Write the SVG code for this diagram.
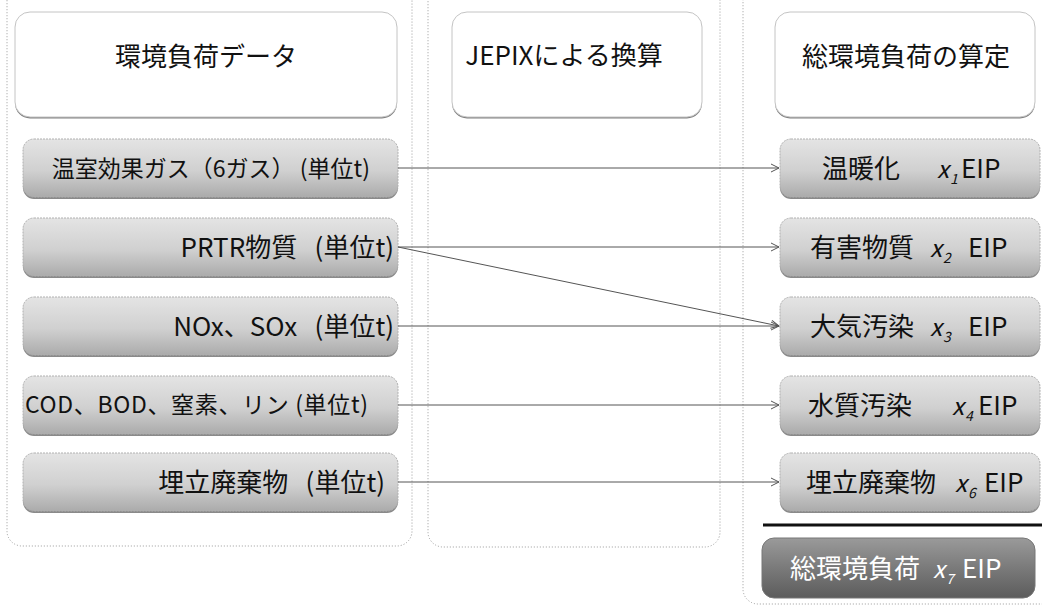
<svg xmlns="http://www.w3.org/2000/svg" width="1042" height="605" viewBox="0 0 1042 605">
<defs>
<linearGradient id="gNode" x1="0" y1="0" x2="0" y2="1">
<stop offset="0" stop-color="#e4e4e4"/><stop offset="0.55" stop-color="#d0d0d0"/><stop offset="1" stop-color="#ababab"/>
</linearGradient>
<linearGradient id="gTotal" x1="0" y1="0" x2="0" y2="1">
<stop offset="0" stop-color="#9a9a9a"/><stop offset="0.5" stop-color="#7a7a7a"/><stop offset="1" stop-color="#5c5c5c"/>
</linearGradient>
<marker id="arr" markerWidth="10" markerHeight="10" refX="9" refY="5" orient="auto" markerUnits="userSpaceOnUse">
<path d="M1,1 L9,5 L1,9" fill="none" stroke="#555" stroke-width="1"/>
</marker>
</defs>
<style>
.cont{fill:none;stroke:#9a9a9a;stroke-width:1;stroke-dasharray:1 2}
.hdr{fill:#fff;stroke:#c4c4c4;stroke-width:1}
.hsh{fill:#808080}
.node{fill:url(#gNode);stroke:#b0b0b0;stroke-width:1;stroke-dasharray:2 1}
.nsh{fill:#8a8a8a}
.t{font-family:"Noto Sans CJK JP","Noto Sans",sans-serif;fill:#111}
.h{font-size:26px}
.n{font-size:26px}
.s{font-size:23px}
.c{font-size:23px}
.x{font-size:24px;font-style:italic}
.sub{font-size:14px;font-style:italic}
.w{fill:#fff}
.conn line{stroke:#555;stroke-width:1;fill:none;marker-end:url(#arr)}
</style>

<g id="col-left">
<rect class="cont" x="7" y="-30" width="405" height="576" rx="15"/>
</g>
<g id="col-mid">
<rect class="cont" x="428" y="-30" width="292" height="577" rx="15"/>
</g>
<g id="col-right">
<rect class="cont" x="743" y="-30" width="330" height="634" rx="15"/>
</g>

<g id="hdr-left">
<rect class="hsh" x="15" y="14" width="382" height="104.5" rx="15"/>
<rect class="hdr" x="15" y="12" width="382" height="105" rx="15"/>
<text class="t h" x="206" y="66" text-anchor="middle">環境負荷データ</text>
</g>
<g id="hdr-mid">
<rect class="hsh" x="452" y="14" width="250" height="104.5" rx="15"/>
<rect class="hdr" x="452" y="12" width="250" height="105" rx="15"/>
<text class="t h" x="564" y="65" text-anchor="middle">JEPIXによる換算</text>
</g>
<g id="hdr-right">
<rect class="hsh" x="775" y="14" width="260" height="104.5" rx="15"/>
<rect class="hdr" x="775" y="12" width="260" height="105" rx="15"/>
<text class="t h" x="906" y="66" text-anchor="middle">総環境負荷の算定</text>
</g>

<g id="in-ghg">
<rect class="nsh" x="23" y="141" width="375" height="58" rx="11"/>
<rect class="node" x="23" y="139" width="375" height="58" rx="11"/>
<text class="t s" x="370" y="177" text-anchor="end">温室効果ガス（6ガス） (単位t)</text>
</g>
<g id="in-prtr">
<rect class="nsh" x="23" y="220" width="375" height="58" rx="11"/>
<rect class="node" x="23" y="218" width="375" height="58" rx="11"/>
<text class="t n" x="394" y="257" text-anchor="end">PRTR物質&#160;&#160;&#160;(単位t)</text>
</g>
<g id="in-nox">
<rect class="nsh" x="23" y="299" width="375" height="58" rx="11"/>
<rect class="node" x="23" y="297" width="375" height="58" rx="11"/>
<text class="t n" x="394" y="336" text-anchor="end">NOx、SOx&#160;&#160;&#160;(単位t)</text>
</g>
<g id="in-cod">
<rect class="nsh" x="23" y="378" width="375" height="58" rx="11"/>
<rect class="node" x="23" y="376" width="375" height="58" rx="11"/>
<text class="t c" x="25" y="413" textLength="343" lengthAdjust="spacing">COD、BOD、窒素、リン (単位t)</text>
</g>
<g id="in-land">
<rect class="nsh" x="23" y="455" width="375" height="58" rx="11"/>
<rect class="node" x="23" y="453" width="375" height="58" rx="11"/>
<text class="t n" x="385" y="492" text-anchor="end">埋立廃棄物&#160;&#160;&#160;(単位t)</text>
</g>

<g id="out-warm">
<rect class="nsh" x="780" y="141" width="260" height="58" rx="11"/>
<rect class="node" x="780" y="139" width="260" height="58" rx="11"/>
<text class="t n" x="822" y="178">温暖化</text>
<text class="t x" x="937" y="178">x</text><text class="t sub" x="950" y="184">1</text>
<text class="t n" x="961" y="178">EIP</text>
</g>
<g id="out-toxic">
<rect class="nsh" x="780" y="220" width="260" height="58" rx="11"/>
<rect class="node" x="780" y="218" width="260" height="58" rx="11"/>
<text class="t n" x="810" y="257">有害物質</text>
<text class="t x" x="930" y="257">x</text><text class="t sub" x="943" y="263">2</text>
<text class="t n" x="968" y="257">EIP</text>
</g>
<g id="out-air">
<rect class="nsh" x="780" y="299" width="260" height="58" rx="11"/>
<rect class="node" x="780" y="297" width="260" height="58" rx="11"/>
<text class="t n" x="810" y="336">大気汚染</text>
<text class="t x" x="930" y="336">x</text><text class="t sub" x="943" y="342">3</text>
<text class="t n" x="968" y="336">EIP</text>
</g>
<g id="out-water">
<rect class="nsh" x="780" y="378" width="260" height="58" rx="11"/>
<rect class="node" x="780" y="376" width="260" height="58" rx="11"/>
<text class="t n" x="808" y="415">水質汚染</text>
<text class="t x" x="952" y="415">x</text><text class="t sub" x="965" y="421">4</text>
<text class="t n" x="978" y="415">EIP</text>
</g>
<g id="out-land">
<rect class="nsh" x="780" y="455" width="260" height="58" rx="11"/>
<rect class="node" x="780" y="453" width="260" height="58" rx="11"/>
<text class="t n" x="806" y="492">埋立廃棄物</text>
<text class="t x" x="955" y="492">x</text><text class="t sub" x="968" y="498">6</text>
<text class="t n" x="984" y="492">EIP</text>
</g>

<g id="sep">
<line x1="763" y1="525" x2="1042" y2="525" stroke="#111" stroke-width="3"/>
</g>
<g id="out-total">
<rect x="762" y="538" width="273" height="60" rx="12" fill="url(#gTotal)" stroke="#777" stroke-width="1"/>
<text class="t n w" x="790" y="578">総環境負荷</text>
<text class="t x w" x="933" y="578">x</text><text class="t sub w" x="946" y="584">7</text>
<text class="t n w" x="962" y="578">EIP</text>
</g>

<g id="connectors" class="conn">
<line x1="398" y1="168" x2="779" y2="168"/>
<line x1="398" y1="247" x2="779" y2="247"/>
<line x1="398" y1="247" x2="779" y2="326"/>
<line x1="398" y1="326" x2="779" y2="326"/>
<line x1="398" y1="405" x2="779" y2="405"/>
<line x1="398" y1="482" x2="779" y2="482"/>
</g>
</svg>
